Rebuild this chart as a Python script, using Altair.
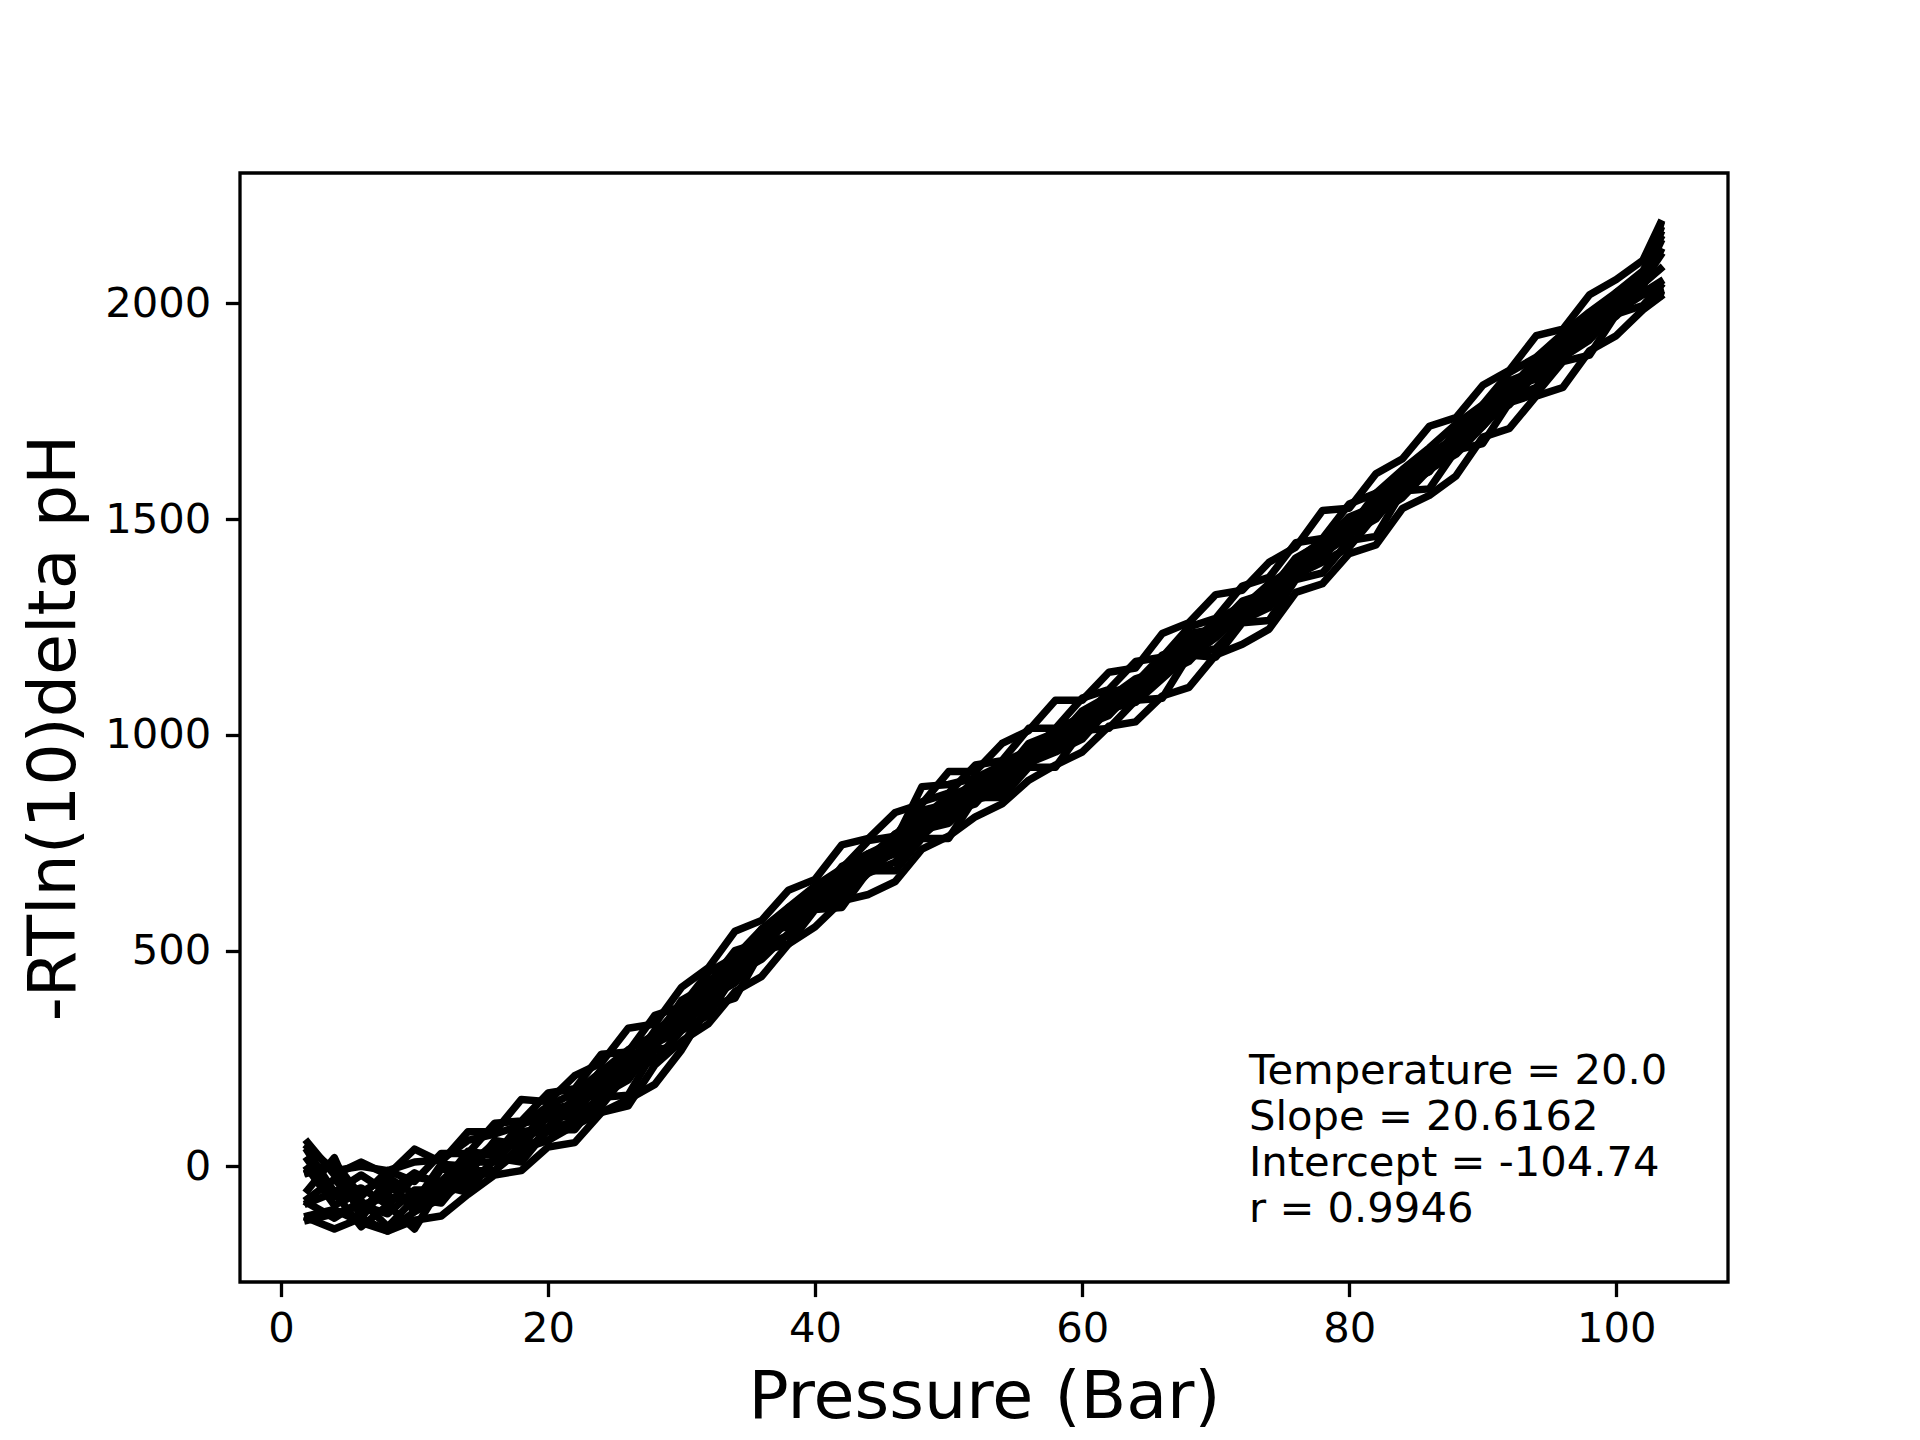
import altair as alt
import pandas as pd

PRESSURE = [2, 4, 6, 8, 10, 12, 14, 16, 18, 20, 22, 24, 26, 28, 30, 32, 34, 36, 38, 40,
            42, 44, 46, 48, 50, 52, 54, 56, 58, 60, 62, 64, 66, 68, 70, 72, 74, 76, 78, 80,
            82, 84, 86, 88, 90, 92, 94, 96, 98, 100, 102, 103.3]

RUN_A = [35, -60, -20, -60, -15, -45, 35, 25, 100, 110, 130, 210, 230, 315, 355, 395, 490, 530, 595, 615,
         695, 725, 745, 825, 840, 895, 905, 980, 1005, 1035, 1100, 1110, 1175, 1235, 1245, 1310, 1330, 1410, 1445, 1475,
         1560, 1590, 1655, 1680, 1760, 1820, 1845, 1920, 1955, 2025, 2060, 2170]
RUN_B = [-115, -100, -130, -150, -105, -75, -30, -10, 50, 60, 110, 140, 220, 245, 315, 350, 445, 480, 540, 600,
         620, 680, 705, 780, 795, 850, 865, 935, 960, 990, 1060, 1075, 1130, 1185, 1200, 1265, 1295, 1370, 1400, 1435,
         1510, 1550, 1615, 1650, 1715, 1780, 1805, 1875, 1915, 1980, 2020, 2030]
RUN_C = [-15, 0, -110, -30, -105, -5, -20, 60, 50, 115, 115, 205, 215, 295, 320, 415, 450, 545, 555, 640,
         645, 710, 730, 810, 805, 880, 900, 975, 970, 1045, 1055, 1120, 1135, 1215, 1230, 1305, 1305, 1395, 1420, 1500,
         1515, 1590, 1610, 1710, 1730, 1805, 1825, 1905, 1930, 2015, 2040, 2120]
RUN_D = [-85, -120, -80, -140, -75, -85, -10, -10, 40, 60, 95, 125, 155, 190, 270, 370, 435, 510, 535, 615,
         635, 685, 750, 765, 820, 840, 910, 930, 980, 995, 1065, 1085, 1155, 1180, 1225, 1285, 1305, 1375, 1410, 1480,
         1505, 1570, 1625, 1665, 1740, 1775, 1840, 1875, 1945, 1985, 2025, 2050]
RUN_E = [15, -70, -50, -90, -25, -35, 25, 35, 80, 90, 160, 185, 245, 275, 365, 405, 475, 515, 590, 630,
         665, 725, 755, 880, 885, 900, 930, 955, 1015, 1040, 1065, 1125, 1155, 1220, 1230, 1295, 1350, 1375, 1440, 1505,
         1530, 1595, 1620, 1695, 1755, 1785, 1860, 1895, 1965, 2000, 2055, 2140]
RUN_F = [-75, -30, -90, -70, -85, 5, 0, 55, 45, 120, 135, 195, 255, 280, 360, 385, 465, 540, 560, 625,
         680, 695, 765, 785, 840, 855, 925, 940, 995, 1050, 1060, 1115, 1170, 1195, 1260, 1275, 1340, 1395, 1415, 1490,
         1525, 1600, 1620, 1690, 1760, 1780, 1850, 1910, 1940, 2005, 2045, 2080]
RUN_G = [-5, -90, -60, -25, -65, -60, 10, 10, 75, 80, 150, 170, 235, 305, 335, 425, 460, 500, 580, 605,
         670, 700, 725, 795, 820, 875, 890, 950, 975, 1035, 1050, 1100, 1160, 1185, 1250, 1280, 1315, 1380, 1420, 1460,
         1535, 1565, 1630, 1675, 1715, 1790, 1830, 1900, 1925, 1985, 2050, 2110]
RUN_H = [45, -10, 0, -10, 10, 15, 60, 75, 95, 140, 170, 220, 270, 305, 375, 430, 470, 550, 575, 645,
         680, 705, 770, 800, 850, 870, 925, 955, 1010, 1025, 1085, 1130, 1150, 1210, 1255, 1280, 1350, 1390, 1430, 1495,
         1540, 1575, 1650, 1690, 1750, 1810, 1835, 1905, 1960, 1990, 2065, 2160]
RUN_I = [-125, -110, -90, -110, -55, -55, -45, 15, 25, 85, 105, 165, 200, 285, 315, 390, 425, 505, 570, 600,
         660, 680, 735, 770, 830, 855, 880, 945, 970, 1020, 1045, 1110, 1140, 1170, 1235, 1265, 1330, 1360, 1425, 1465,
         1500, 1575, 1610, 1680, 1730, 1765, 1840, 1880, 1935, 1970, 2035, 2020]
RUN_J = [-55, 20, -120, -40, -95, -40, 5, 45, 60, 130, 145, 225, 240, 290, 385, 420, 500, 520, 600, 635,
         655, 715, 770, 805, 860, 880, 935, 965, 985, 1055, 1090, 1120, 1185, 1205, 1265, 1300, 1335, 1405, 1450, 1485,
         1550, 1605, 1635, 1700, 1765, 1800, 1870, 1900, 1965, 2010, 2035, 2180]
RUN_K = [55, -20, 10, -20, 40, 10, 80, 80, 155, 150, 210, 240, 320, 330, 415, 460, 545, 570, 640, 665,
         745, 760, 820, 840, 915, 915, 980, 1010, 1080, 1080, 1145, 1155, 1235, 1260, 1325, 1335, 1400, 1435, 1520, 1525,
         1605, 1640, 1715, 1735, 1810, 1845, 1925, 1940, 2020, 2055, 2100, 2185]
RUN_L = [-120, -145, -120, -150, -125, -115, -65, -20, -10, 45, 55, 125, 140, 235, 290, 330, 405, 440, 515, 555,
         615, 630, 660, 735, 765, 810, 840, 895, 930, 960, 1020, 1030, 1090, 1110, 1185, 1210, 1245, 1330, 1350, 1420,
         1440, 1525, 1555, 1600, 1690, 1710, 1785, 1805, 1890, 1925, 1985, 2015]
RUN_M = [-15, 10, -70, -10, -35, 30, 30, 100, 105, 170, 180, 260, 265, 350, 370, 450, 485, 550, 600, 650,
         690, 755, 765, 845, 865, 930, 940, 1015, 1015, 1085, 1105, 1170, 1180, 1250, 1270, 1345, 1365, 1445, 1455, 1535,
         1560, 1615, 1665, 1720, 1765, 1840, 1875, 1930, 1980, 2025, 2075, 2150]
RUN_N = [-85, -60, -140, -90, -145, -45, -60, 20, 10, 85, 85, 160, 165, 270, 280, 370, 390, 500, 515, 595,
         600, 685, 685, 760, 760, 855, 855, 925, 925, 1010, 1015, 1080, 1085, 1185, 1180, 1260, 1265, 1360, 1375, 1450,
         1460, 1565, 1570, 1660, 1675, 1770, 1790, 1865, 1880, 1975, 1995, 2040]

RUNS = {"A": RUN_A, "B": RUN_B, "C": RUN_C, "D": RUN_D, "E": RUN_E, "F": RUN_F, "G": RUN_G,
        "H": RUN_H, "I": RUN_I, "J": RUN_J, "K": RUN_K, "L": RUN_L, "M": RUN_M, "N": RUN_N}

X_TICKS = [0, 20, 40, 60, 80, 100]
Y_TICKS = [0, 500, 1000, 1500, 2000]
X_TITLE = "Pressure (Bar)"
Y_TITLE = "-RTln(10)delta pH"
ANNOTATION_LINES = ["Temperature = 20.0", "Slope = 20.6162", "Intercept = -104.74", "r = 0.9946"]

rows = []
for name, vals in RUNS.items():
    for p, v in zip(PRESSURE, vals):
        rows.append({"run": name, "pressure": p, "value": v})
df = pd.DataFrame(rows)

FONT = "DejaVu Sans"
W, H = 1488, 1109

x_enc = alt.X("pressure:Q",
              scale=alt.Scale(domain=[-3.07, 108.37], nice=False, zero=False),
              axis=alt.Axis(values=X_TICKS, title=X_TITLE, grid=False, domain=False, format="d",
                            tickSize=14.6, tickWidth=3.3, tickColor="black",
                            labelFont=FONT, labelFontSize=41.7, labelColor="black",
                            labelPadding=44.4, labelBaseline="alphabetic",
                            titleFont=FONT, titleFontSize=66.7, titleFontWeight="normal",
                            titleColor="black", titleBaseline="alphabetic", titleY=135,
                            titleX=W / 2, titleAlign="center", labelFlush=False))
y_enc = alt.Y("value:Q",
              scale=alt.Scale(domain=[-268, 2302], nice=False, zero=False),
              axis=alt.Axis(values=Y_TICKS, title=Y_TITLE, grid=False, domain=False, format="d",
                            tickSize=14.6, tickWidth=3.3, tickColor="black",
                            labelFont=FONT, labelFontSize=41.7, labelColor="black",
                            labelPadding=14.6, labelBaseline="middle",
                            titleFont=FONT, titleFontSize=66.7, titleFontWeight="normal",
                            titleColor="black", titleBaseline="alphabetic", titleAngle=270,
                            titleX=-166, titleY=H / 2, titleAlign="center", labelFlush=False))

lines = alt.Chart(df).mark_line(color="black", strokeWidth=7.5, strokeJoin="round",
                                strokeCap="square").encode(
    x=x_enc, y=y_enc, detail="run:N")

annot = alt.Chart(pd.DataFrame({"t": ["\n".join(ANNOTATION_LINES)]})).mark_text(
    align="left", baseline="alphabetic", font=FONT, fontSize=41.7, color="black",
    lineBreak="\n", lineHeight=46).encode(
    text="t:N", x=alt.value(1009), y=alt.value(911))

chart = (lines + annot).properties(
    width=W, height=H,
    autosize=alt.AutoSizeParams(type="none"),
    padding={"left": 232, "top": 165, "right": 184, "bottom": 150},
    background="white",
).configure_view(stroke="black", strokeWidth=3.3)

chart.save("out.html", embed_options={"renderer": "svg", "actions": False})
